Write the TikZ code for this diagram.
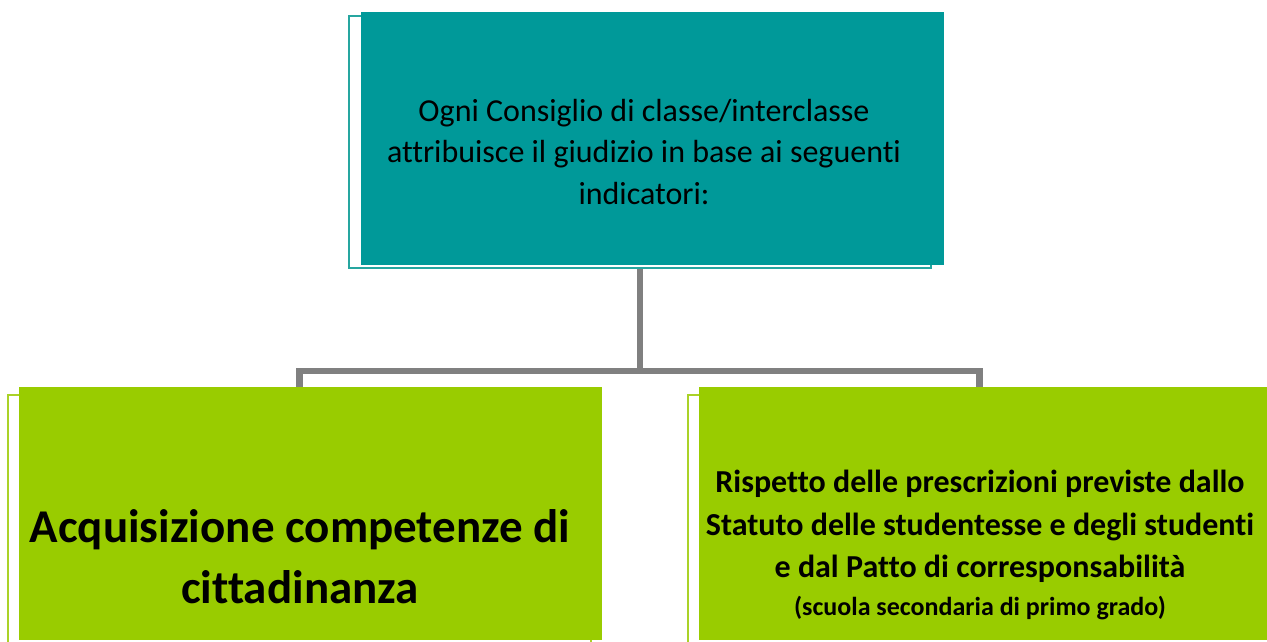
\documentclass[tikz,border=0pt]{standalone}
\usepackage{fontspec}
\setmainfont{Carlito}[Ligatures={NoCommon}]
\definecolor{tealfill}{RGB}{0,153,153}
\definecolor{tealline}{RGB}{38,166,160}
\definecolor{greenfill}{RGB}{153,204,0}
\definecolor{greenline}{RGB}{170,210,40}
\definecolor{connc}{RGB}{128,128,128}
\begin{document}
\begin{tikzpicture}[x=1pt,y=-1pt,
  frameT/.style={draw=tealline,line width=2.5pt,fill=none,inner sep=0pt,minimum width=582pt,minimum height=252pt},
  frameG/.style={draw=greenline,line width=2.5pt,fill=none,inner sep=0pt,minimum width=583pt,minimum height=252pt},
  fillT/.style={fill=tealfill,draw=none,inner sep=0pt,minimum width=583pt,minimum height=253pt},
  fillG/.style={fill=greenfill,draw=none,inner sep=0pt,minimum width=583pt,minimum height=253pt},
  conn/.style={draw=connc,line width=6.5pt},
  txt/.style={align=center,inner sep=0pt,text=black}]
\useasboundingbox (0,0) rectangle (1267,642);
\clip (0,0) rectangle (1267,642);
% frames (behind)
\node[frameT] (topframe) at (640,142) {};
\node[frameG] (leftframe) at (299.5,521) {};
\node[frameG] (rightframe) at (979.5,521) {};
% connectors
\coordinate (hub) at (640,371);
\draw[conn] (topframe.south) -- (hub);
\draw[conn] (leftframe.north) |- (hub) -| (rightframe.north);
% filled boxes
\node[fillT] (topfill) at (652.5,138.5) {};
\node[fillG] (leftfill) at (310.5,513.5) {};
\node[fillG] (rightfill) at (990.5,513.5) {};
% texts
\node[txt,font=\fontsize{32}{41.5}\selectfont] (toptext) at (644,152)
  {Ogni Consiglio di classe/interclasse\\attribuisce il giudizio in base ai seguenti\\indicatori:};
\node[txt,font=\fontsize{47}{61}\selectfont\bfseries] (lefttext) at (300,557)
  {Acquisizione competenze di\\cittadinanza};
\node[txt,font=\fontsize{32}{42.5}\selectfont\bfseries] (righttext) at (980,545)
  {Rispetto delle prescrizioni previste dallo\\Statuto delle studentesse e degli studenti\\e dal Patto di corresponsabilità\\[-5pt]{\fontsize{26}{42.5}\selectfont (scuola secondaria di primo grado)}};
\end{tikzpicture}
\end{document}
